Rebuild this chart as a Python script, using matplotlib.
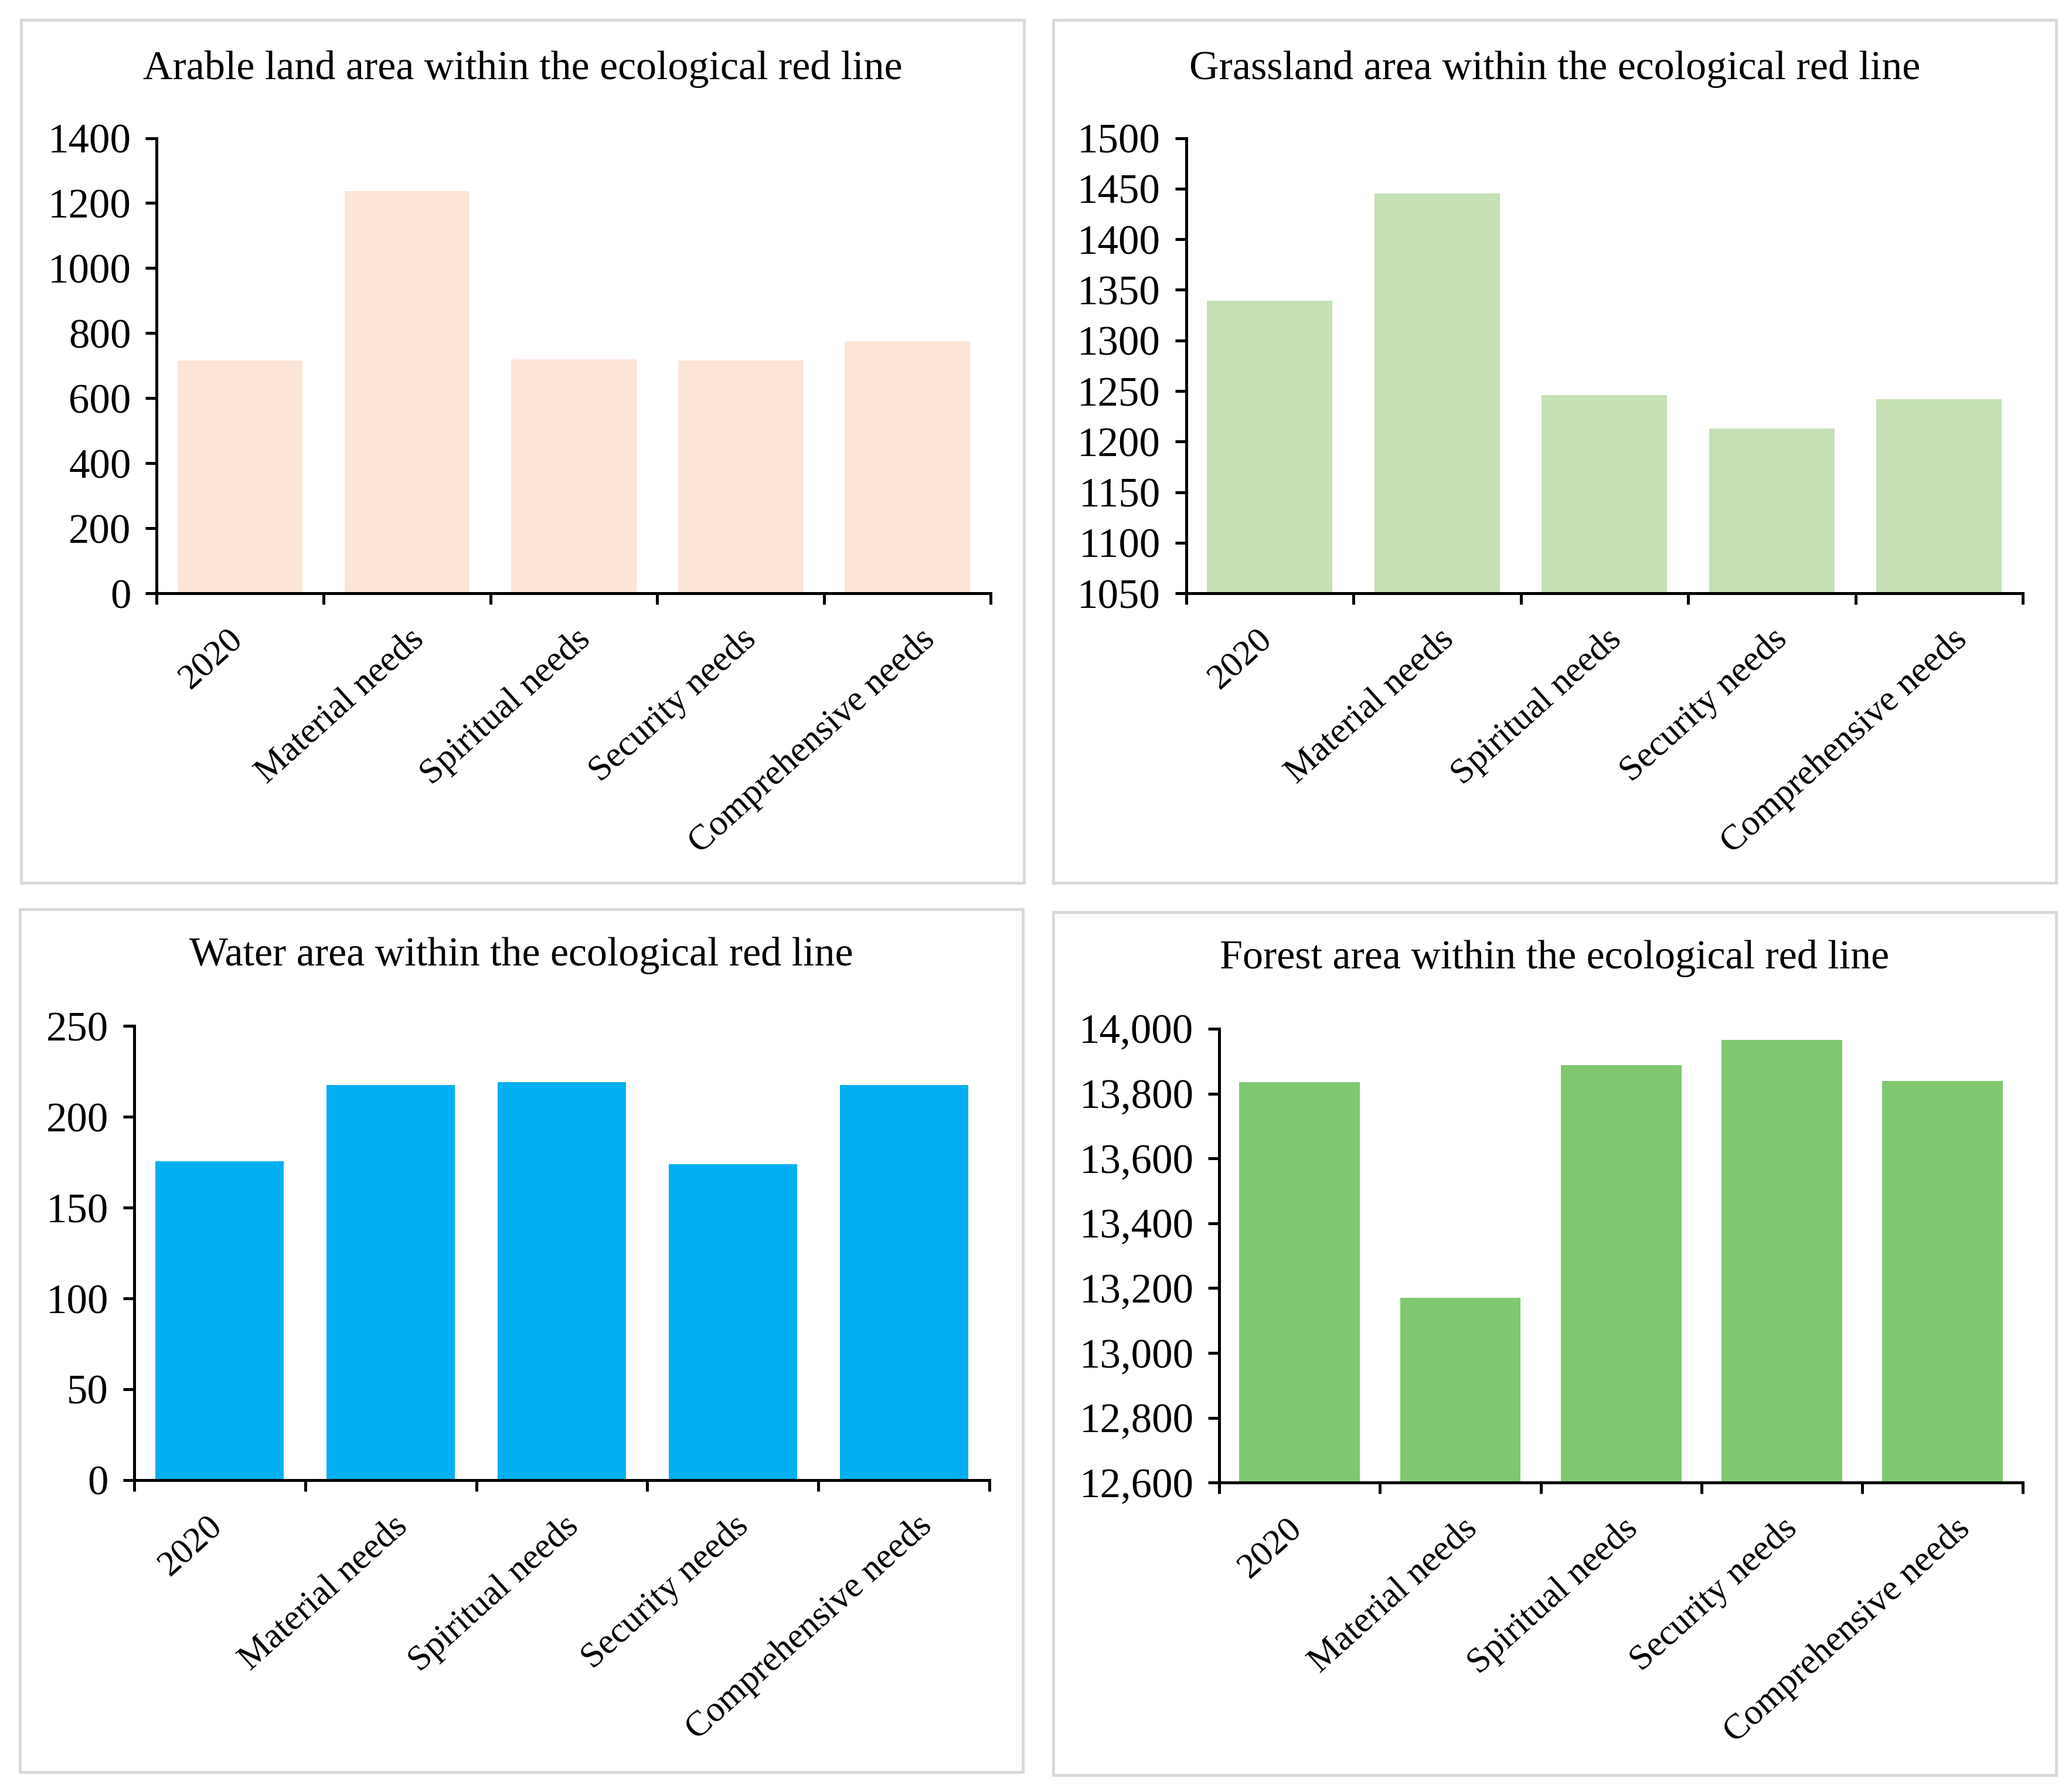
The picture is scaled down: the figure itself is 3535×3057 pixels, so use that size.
import numpy as np
import matplotlib.pyplot as plt
from matplotlib.patches import Rectangle
from matplotlib.ticker import FuncFormatter
import matplotlib.transforms as mtransforms

plt.rcParams['font.family'] = ['Liberation Serif', 'DejaVu Serif']

categories = ['2020', 'Material needs', 'Spiritual needs', 'Security needs', 'Comprehensive needs']

arable = [716, 1237, 720, 716, 776]
grassland = [1339, 1445, 1246, 1213, 1242]
water = [175.5, 217.5, 219, 174, 217.5]
forest = [13835, 13170, 13887, 13965, 13839]

titles = ['Arable land area within the ecological red line',
          'Grassland area within the ecological red line',
          'Water area within the ecological red line',
          'Forest area within the ecological red line']

W, H = 1560.0, 1350.0  # layout measured on a 1560x1350 view of the reference

fig = plt.figure(figsize=(3535 / 300, 3057 / 300), dpi=300)

# panel frames and axes boxes (x0, y0, x1, y1), view pixels from top-left
frames = [(16, 15, 771, 665), (793, 15, 1548, 665),
          (15, 685, 770, 1335), (793, 687, 1548, 1337)]
boxes = [(118, 104, 746, 447), (893, 104, 1523, 447),
         (101, 773, 745, 1115), (918, 775, 1523, 1117)]
title_y = [52, 52, 720, 722]
# Excel-like horizontal nudge of the rotated labels (points)
label_dx = [-1.0, 5.0, 5.0, 4.5, 9.5]

panels = [
    (arable, '#FCE4D6', (0, 1400), np.arange(0, 1401, 200), '{:.0f}'),
    (grassland, '#C5E0B4', (1050, 1500), np.arange(1050, 1501, 50), '{:.0f}'),
    (water, '#00B0F0', (0, 250), np.arange(0, 251, 50), '{:.0f}'),
    (forest, '#7FC870', (12600, 14000), np.arange(12600, 14001, 200), '{:,.0f}'),
]

for i, (vals, col, ylim, yt, fmt) in enumerate(panels):
    fx0, fy0, fx1, fy1 = frames[i]
    fig.patches.append(Rectangle((fx0 / W, 1 - fy1 / H), (fx1 - fx0) / W, (fy1 - fy0) / H,
                                 transform=fig.transFigure, fill=False,
                                 edgecolor='#D9D9D9', linewidth=1.2))
    x0, y0, x1, y1 = boxes[i]
    ax = fig.add_axes([x0 / W, 1 - y1 / H, (x1 - x0) / W, (y1 - y0) / H])
    x = np.arange(len(categories))
    ax.bar(x, np.array(vals) - ylim[0], bottom=ylim[0], width=0.75, color=col, zorder=2)
    ax.set_xlim(-0.5, len(categories) - 0.5)
    ax.set_ylim(*ylim)
    ax.set_yticks(yt)
    ax.yaxis.set_major_formatter(FuncFormatter(lambda v, p, f=fmt: f.format(v)))
    ax.tick_params(axis='y', direction='out', length=4.5, width=1.2, labelsize=17, pad=6)
    ax.set_xticks(x)
    ax.set_xticklabels(categories, rotation=42, ha='right', va='center',
                       rotation_mode='anchor', fontsize=14.8)
    ax.tick_params(axis='x', which='major', length=0, pad=17)
    ax.set_xticks(np.arange(len(categories) + 1) - 0.5, minor=True)
    ax.tick_params(axis='x', which='minor', direction='out', length=4.5, width=1.2)
    for lab, dx in zip(ax.get_xticklabels(), label_dx):
        off = mtransforms.ScaledTranslation(dx / 72, 0, fig.dpi_scale_trans)
        lab.set_transform(lab.get_transform() + off)
    for s in ['top', 'right']:
        ax.spines[s].set_visible(False)
    for s in ['left', 'bottom']:
        ax.spines[s].set_linewidth(1.2)
    cx = (fx0 + fx1) / 2 / W
    fig.text(cx, 1 - title_y[i] / H, titles[i], ha='center', va='center', fontsize=16.8)

fig.savefig('out.png', dpi=300, facecolor='white')
